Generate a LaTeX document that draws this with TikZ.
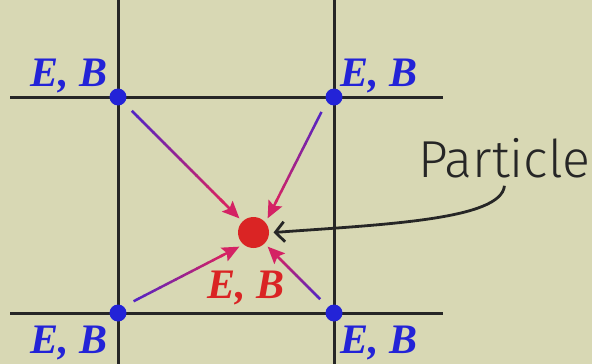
\documentclass[tikz,border=0pt]{standalone}
\usepackage{fontspec}
\setmainfont{Liberation Serif}
\newfontfamily\partfont{Fira Sans Light}
\usetikzlibrary{arrows.meta,calc}
\definecolor{bgbeige}{RGB}{216,216,180}
\definecolor{dotblue}{RGB}{35,35,215}
\definecolor{partred}{RGB}{218,36,36}
\definecolor{arrA}{RGB}{85,35,195}
\definecolor{arrB}{RGB}{212,34,100}
\begin{document}
\begin{tikzpicture}[x=1pt, y=-1pt,
  gridline/.style = {line width=3pt, draw=black!85},
  nodedot/.style = {circle, fill=dotblue, minimum size=17pt, inner sep=0pt, outer sep=11pt},
  partdot/.style = {circle, fill=partred, minimum size=31pt, inner sep=0pt, outer sep=4.5pt},
  fieldlbl/.style = {font=\fontsize{42}{42}\selectfont\bfseries\itshape, inner sep=0pt, anchor=base west},
  fieldarrow/.style = {line width=2.5pt},
  fieldtip/.style = {line width=2.5pt, draw=arrB, -{Stealth[length=17pt, width=15pt, inset=3pt, fill=arrB]}},
  ptrarrow/.style = {line width=2.8pt, draw=black!85, -{Straight Barb[length=9pt, width=20pt, line width=2.8pt]}}
]
  % background
  \fill[bgbeige] (0,0) rectangle (592,364);
  \useasboundingbox (0,0) rectangle (592,364);

  % grid
  \draw[gridline] (118,0) -- (118,364);
  \draw[gridline] (334,0) -- (334,364);
  \draw[gridline] (10,97) -- (443,97);
  \draw[gridline] (10,313) -- (443,313);

  % grid nodes
  \node[nodedot] (tl) at (118,97) {};
  \node[nodedot] (tr) at (334,97) {};
  \node[nodedot] (bl) at (118,313) {};
  \node[nodedot] (br) at (334,313) {};

  % particle
  \node[partdot] (p) at (253.5,232.5) {};

  % field labels
  \node[fieldlbl, text=dotblue] (ltl) at (30,86) {E, B};
  \node[fieldlbl, text=dotblue] (ltr) at (340,86) {E, B};
  \node[fieldlbl, text=dotblue] (lbl) at (30,353) {E, B};
  \node[fieldlbl, text=dotblue] (lbr) at (340,353) {E, B};
  \node[fieldlbl, text=partred] (lp) at (207,298) {E, B};

  % interpolation arrows
  \foreach \s/\e in {tl.south east/p.north west, tr.-130/p.north east,
                     bl.37/p.south west, br.north west/p.south east} {
    \foreach \i in {0,...,16} {
      \pgfmathsetmacro\mix{\i*100/16}
      \draw[fieldarrow, draw=arrB!\mix!arrA] ($(\s)!\i/20!(\e)$) -- ($(\s)!\i/20+0.055!(\e)$);
    }
    \draw[fieldtip] ($(\s)!0.82!(\e)$) -- (\e);
  }

  % label
  \node[font=\partfont\fontsize{52}{52}\selectfont, text=black!85, inner sep=0pt, anchor=base west] (prt) at (418,177) {Particle};
  \coordinate (ptail) at ([yshift=-8pt]prt.south);
  \draw[ptrarrow] (ptail) .. controls +(-3,34) and +(110,-8) .. (p.east);
\end{tikzpicture}
\end{document}
